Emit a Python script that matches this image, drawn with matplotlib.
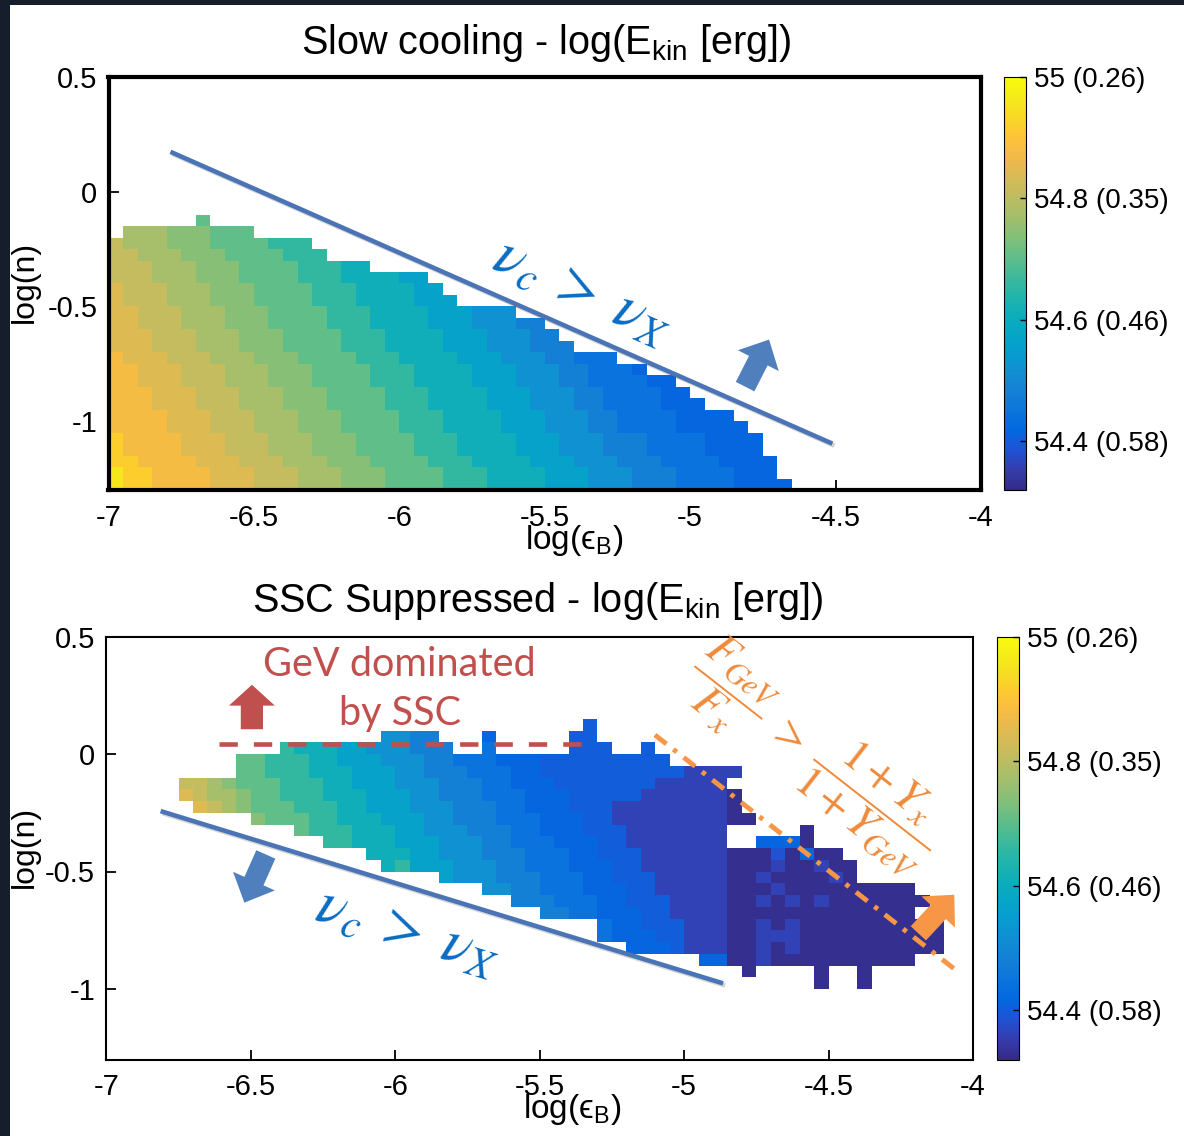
import numpy as np
import matplotlib
matplotlib.use("Agg")
import matplotlib.pyplot as plt
from matplotlib import patheffects, transforms
from matplotlib.colors import LinearSegmentedColormap
from matplotlib.patches import Polygon, Rectangle

plt.rcParams['font.family'] = ['Liberation Sans', 'DejaVu Sans']
plt.rcParams['axes.unicode_minus'] = False
plt.rcParams['mathtext.fontset'] = 'custom'
plt.rcParams['mathtext.rm'] = 'Liberation Sans'
plt.rcParams['mathtext.it'] = 'Liberation Sans:italic'

# parameter grid: log(eps_B) columns, log(n) rows (top to bottom), 0.05 dex cells
eps_edges = np.linspace(-7.0, -4.0, 61)
n_edges = np.linspace(0.5, -1.3, 37)

# log(E_kin) levels, one letter per level ('.' = no solution)
level_codes = "abcdefghijklmnopqrs"
level_ekin = [54.328, 54.36, 54.385, 54.40, 54.415, 54.445, 54.48, 54.52, 54.565, 54.61,
              54.66, 54.705, 54.74, 54.775, 54.81, 54.845, 54.88, 54.92, 54.96]

slow_cooling_rows = [
    "", "", "", "", "", "", "", "", "", "", "", "",
    "......l",
    ".nnnmmmlll",
    "onnnmmmllllkkk",
    "oonnnmmmllllkkk",
    "ooonnnmmmllllkkkjj",
    "ooonnnmmmllllkkkjjjjii",
    "pooonnnmmmllllkkkjjjjii",
    "pooonnnmmmllllkkkjjjjiii",
    "ppooonnnmmmllllkkkjjjjiiihhh",
    "ppooonnnmmmllllkkkjjjjiiihhhgg",
    "pppooonnnmmmllllkkkjjjjiiihhhgg",
    "pppooonnnmmmllllkkkjjjjiiihhhggg",
    "qpppooonnnmmmllllkkkjjjjiiihhhggfff",
    "qqpppooonnnmmmllllkkkjjjjiiihhhggfffe",
    "qqpppooonnnmmmllllkkkjjjjiiihhhggffffee",
    "qqqpppooonnnmmmllllkkkjjjjiiihhhggffffee",
    "qqqpppooonnnmmmllllkkkjjjjiiihhhggffffeee",
    "qqqqpppooonnnmmmllllkkkjjjjiiihhhggffffeeee",
    "qqqqpppooonnnmmmllllkkkjjjjiiihhhggffffeeeee",
    "rqqqqpppooonnnmmmllllkkkjjjjiiihhhgggffffeeee",
    "rqqqqpppooonnnmmmllllkkkjjjjiiihhhgggffffeeee",
    "rrqqqqpppooonnnmmmllllkkkjjjjiiihhhgggffffeeee",
    "srrqqqqpppooonnnmmmllllkkkjjjjiiihhhgggffffeee",
    "srrqqqqpppooonnnmmmllllkkkjjjjiiihhhgggffffeeee",
]

ssc_suppressed_rows = [
    "", "", "", "", "", "", "",
    ".................................d",
    "...................hhgg...e.....dd",
    "............kjjjiihhhggg..f.....ddd..d",
    ".........llkkkjjiiihhhggfffeeeddddddddd",
    ".........llkkkjjjiiihhgggfffeeddddddddddbbbb",
    ".....oonmlllkkkjjiiihhhgggffeeedddddddbbbbb",
    ".....ponnmllkkkjjjiiihhgggfffeeedddddbbbbbba",
    "......ponmlllkkkjjiiihhhgggffeeedddbbbbbbbba",
    "..........mlllkkjjjiiihhgggfffeeeddbbbbbbbbaa",
    ".............lkkkjjjiihhhgggffeeedddbbbbbbb.....a",
    "...............kkjjjiiihhhggfffeeeddbbbbbbb..eeea",
    "..................jjjiihhhgggfffeedddbbbbbbaaacaeaa",
    "...................jkiiihhhggfffeeeddbbbbbbaaabaabaa",
    ".......................ihhhgggfffeedddbbbbbaabaaaaba",
    "..........................hhggfffeeeddbbbbbaaabaaaaaaaaa",
    "............................gggfffeedddbbbbaabababaaaaaaa",
    "..............................ggffeeeddbbbbaaaaaaaaaaaaa",
    "..................................feedddbbbaababaaaaaaaaaa",
    "..................................feeeddbbbaabbbaaaaaaaaaa",
    "....................................eeedbbbaababaaaaaaaaaa",
    ".........................................eeaabaaaaaaaaaa",
    "............................................a....a..a",
    ".................................................a..a",
    "", "", "", "", "", "",
]

cbar_ticks = [55.0, 54.8, 54.6, 54.4]
cbar_labels = ["55 (0.26)", "54.8 (0.35)", "54.6 (0.46)", "54.4 (0.58)"]
x_ticks = [-7, -6.5, -6, -5.5, -5, -4.5, -4]
x_ticklabels = ["-7", "-6.5", "-6", "-5.5", "-5", "-4.5", "-4"]
y_ticks = [0.5, 0, -0.5, -1]
y_ticklabels = ["0.5", "0", "-0.5", "-1"]

# MATLAB parula
parula = LinearSegmentedColormap.from_list("parula", [
    (0.2081, 0.1663, 0.5292), (0.2081, 0.2386, 0.6771), (0.1253, 0.3242, 0.8303),
    (0.0060, 0.4086, 0.8828), (0.0498, 0.4586, 0.8641), (0.0779, 0.5040, 0.8384),
    (0.0641, 0.5570, 0.8240), (0.0265, 0.6137, 0.8135), (0.0228, 0.6535, 0.7768),
    (0.0590, 0.6838, 0.7254), (0.1453, 0.7098, 0.6646), (0.2586, 0.7317, 0.5954),
    (0.3953, 0.7459, 0.5244), (0.5300, 0.7491, 0.4661), (0.6473, 0.7456, 0.4188),
    (0.7525, 0.7384, 0.3768), (0.8507, 0.7299, 0.3360), (0.9450, 0.7261, 0.2886),
    (0.9990, 0.7653, 0.2164), (0.9697, 0.8481, 0.1475), (0.9598, 0.9218, 0.0948),
    (0.9763, 0.9831, 0.0538)], N=256)

BLUE = '#4a74b5'
NU_BLUE = '#0a6cc2'
RED = '#c0504d'
ORANGE = '#f79646'

W, H = 1184, 1136
fig = plt.figure(figsize=(W / 100, H / 100), dpi=100)


def frame(left, top, right, bottom):
    return [left / W, 1 - bottom / H, (right - left) / W, (bottom - top) / H]


def ekin_grid(rows):
    lookup = dict(zip(level_codes, level_ekin))
    grid = np.full((len(n_edges) - 1, len(eps_edges) - 1), np.nan)
    for i, row in enumerate(rows):
        for j, ch in enumerate(row):
            if ch in lookup:
                grid[i, j] = lookup[ch]
    return np.ma.masked_invalid(grid)


def block_arrow(ax, x, y, angle, color, length=36, head_len=16, head_w=30, shaft_w=14):
    half = length / 2.0
    pts = np.array([[-half, -shaft_w / 2], [half - head_len, -shaft_w / 2],
                    [half - head_len, -head_w / 2], [half, 0],
                    [half - head_len, head_w / 2], [half - head_len, shaft_w / 2],
                    [-half, shaft_w / 2]])
    a = np.deg2rad(angle)
    rot = np.array([[np.cos(a), -np.sin(a)], [np.sin(a), np.cos(a)]])
    pts = pts @ rot.T / 72.0
    trans = fig.dpi_scale_trans + transforms.ScaledTranslation(x, y, ax.transData)
    ax.add_artist(Polygon(pts, closed=True, transform=trans, facecolor=color,
                          edgecolor='none', clip_on=False, zorder=6))


def panel(ax, cax, rows, spine_w):
    mesh = ax.pcolormesh(eps_edges, n_edges, ekin_grid(rows), cmap=parula,
                         vmin=54.32, vmax=55.0, shading='flat')
    ax.set_xlim(-7, -4)
    ax.set_ylim(-1.3, 0.5)
    ax.set_axisbelow(True)
    ax.set_xticks(x_ticks)
    ax.set_xticklabels(x_ticklabels)
    ax.set_yticks(y_ticks)
    ax.set_yticklabels(y_ticklabels)
    ax.tick_params(direction='in', length=7, width=1.3, labelsize=21)
    ax.tick_params(axis='x', pad=10)
    ax.tick_params(axis='y', pad=8)
    for s in ax.spines.values():
        s.set_linewidth(spine_w)
    cb = fig.colorbar(mesh, cax=cax, ticks=cbar_ticks)
    cb.set_ticklabels(cbar_labels)
    cb.ax.tick_params(direction='in', length=4, width=1, labelsize=20, pad=6)
    cb.outline.set_linewidth(0.8)
    return mesh


shadow = [patheffects.SimpleLineShadow(offset=(1.5, -1.5), alpha=0.25, shadow_color='#555555'),
          patheffects.Normal()]
nu_label = r'$\nu_c\;>\;\nu_X$'

# --- slow cooling ---
ax1 = fig.add_axes(frame(108.5, 77, 981, 490))
cax1 = fig.add_axes(frame(1003.5, 77, 1025.5, 490))
panel(ax1, cax1, slow_cooling_rows, 3.0)
ax1.plot([-6.787, -4.511], [0.174, -1.098], color=BLUE, lw=3.3, solid_capstyle='butt',
         path_effects=shadow, zorder=4)
ax1.text(-5.37, -0.435, nu_label, rotation=-24, rotation_mode='anchor',
         ha='center', va='center', color=NU_BLUE, fontsize=43, math_fontfamily='stix', zorder=5)
block_arrow(ax1, -4.77, -0.747, 63, '#4f7fbd', length=38, head_len=17, head_w=33, shaft_w=15)

fig.text(546 / W, 1 - 54 / H, 'Slow cooling - log(E$_\\mathregular{kin}$ [erg])',
         ha='center', va='baseline', fontsize=28.5)
fig.text(25 / W, 1 - 282 / H, 'log(n)', rotation=90, ha='center', va='center', fontsize=23)
fig.text(574 / W, 1 - 549 / H, 'log(ϵ$_\\mathregular{B}$)', ha='center', va='baseline', fontsize=24)

# --- SSC suppressed ---
ax2 = fig.add_axes(frame(106.3, 636.5, 973, 1059.5))
cax2 = fig.add_axes(frame(997, 636.5, 1019, 1060))
panel(ax2, cax2, ssc_suppressed_rows, 1.5)
ax2.plot([-6.812, -4.865], [-0.243, -0.976], color=BLUE, lw=3.3, solid_capstyle='butt',
         path_effects=shadow, zorder=4)
ax2.text(-5.956, -0.755, nu_label, rotation=-17, rotation_mode='anchor',
         ha='center', va='center', color=NU_BLUE, fontsize=43, math_fontfamily='stix', zorder=5)
block_arrow(ax2, -6.485, -0.53, -114, '#4f7fbd', length=38, head_len=17, head_w=33, shaft_w=15)

ax2.plot([-6.61, -5.344], [0.041, 0.041], color=RED, lw=3.3, dashes=(4, 3.5),
         solid_capstyle='butt', zorder=4)
block_arrow(ax2, -6.496, 0.2, 90, RED, length=32, head_len=15, head_w=33, shaft_w=16)
ax2.text(-5.987, 0.33, 'GeV dominated', ha='center', va='baseline', color=RED,
         fontsize=28.5, family=['Lato', 'DejaVu Sans'], zorder=5)
ax2.text(-5.983, 0.123, 'by SSC', ha='center', va='baseline', color=RED,
         fontsize=28.5, family=['Lato', 'DejaVu Sans'], zorder=5)

ax2.plot([-5.101, -4.056], [0.081, -0.923], color=ORANGE, lw=3.5,
         dashes=(3.0, 1.8, 0.9, 1.8), zorder=4, clip_on=False)
block_arrow(ax2, -4.127, -0.681, 47, ORANGE, length=38, head_len=17, head_w=33, shaft_w=15)
ax2.text(-4.555, -0.01, r'$\dfrac{F_{GeV}}{F_x}\;>\;\dfrac{1+Y_x}{1+Y_{GeV}}$',
         rotation=-38, rotation_mode='anchor', ha='center', va='center', color='#ef8a3a',
         fontsize=32, math_fontfamily='stix', zorder=5, clip_on=False)

fig.text(538 / W, 1 - 612 / H, 'SSC Suppressed - log(E$_\\mathregular{kin}$ [erg])',
         ha='center', va='baseline', fontsize=28.5)
fig.text(25 / W, 1 - 847 / H, 'log(n)', rotation=90, ha='center', va='center', fontsize=23)
fig.text(572 / W, 1 - 1118 / H, 'log(ϵ$_\\mathregular{B}$)', ha='center', va='baseline', fontsize=24)

# dark slide border
fig.patches.append(Rectangle((0, 0), 10 / W, 1, transform=fig.transFigure,
                             facecolor='#161d2b', edgecolor='none', zorder=-1))
fig.patches.append(Rectangle((0, 1 - 5 / H), 1, 5 / H, transform=fig.transFigure,
                             facecolor='#161d2b', edgecolor='none', zorder=-1))

fig.savefig('out.png', dpi=100, facecolor='white')
